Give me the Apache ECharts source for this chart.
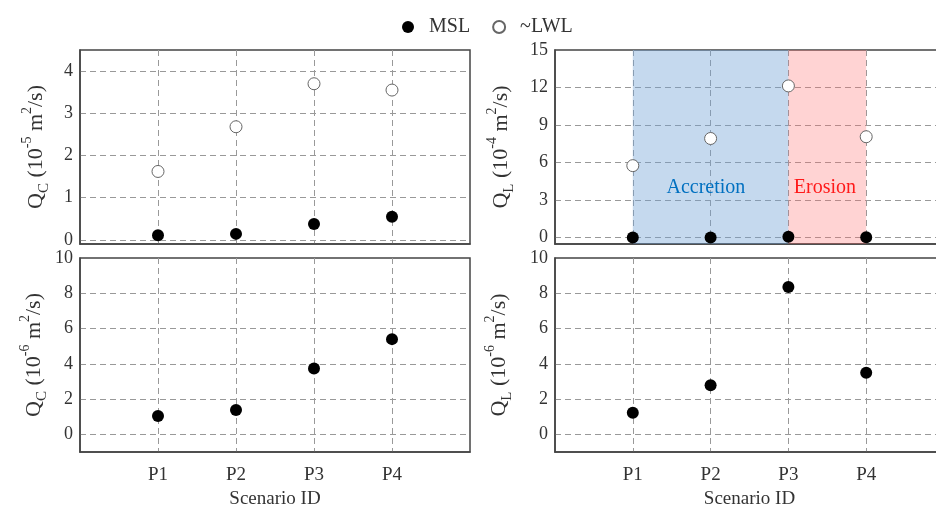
<!DOCTYPE html>
<html>
<head>
<meta charset="utf-8">
<script src="https://cdn.jsdelivr.net/npm/echarts@6/dist/echarts.min.js"></script>
<style>
  html, body { margin: 0; padding: 0; background: #fff; }
  #chart { width: 936px; height: 509px; }
</style>
</head>
<body>
<div id="chart"></div>
<script>
// Scenario labels (placed at x = 1..4 on each panel)
const scenarios = ['P1', 'P2', 'P3', 'P4'];

// Cross-shore transport Q_C, 10^-5 m^2/s
const qcMSLTop = [0.105, 0.14, 0.375, 0.545];
const qcLWLTop = [1.62, 2.68, 3.70, 3.55];

// Longshore transport Q_L, 10^-4 m^2/s
const qlMSLTop = [0.013, 0.028, 0.084, 0.036];
const qlLWLTop = [5.76, 7.93, 12.13, 8.07];

// MSL only, 10^-6 m^2/s
const qcMSL = [1.04, 1.38, 3.73, 5.40];
const qlMSL = [1.23, 2.79, 8.36, 3.50];

// Shaded ranges on the Q_L panel
const accretionRange = [1, 3];
const erosionRange = [3, 4];

const SERIF = "'Liberation Serif', 'Times New Roman', serif";
const TXT = '#333';

const pts = arr => arr.map((v, i) => [i + 1, v]);

function qName(sub, exp) {
  return '{m|Q}{sub|' + sub + '}{m| (10}{sup|' + exp + '}{m| m}{sup|2}{m|/s)}';
}
const nameRich = {
  m:   { fontSize: 22, fontFamily: SERIF, color: TXT, lineHeight: 32, verticalAlign: 'middle' },
  sup: { fontSize: 14, fontFamily: SERIF, color: TXT, lineHeight: 14, verticalAlign: 'top' },
  sub: { fontSize: 15, fontFamily: SERIF, color: TXT, lineHeight: 15, verticalAlign: 'bottom' }
};

const dashed = { show: true, showMinLine: false, showMaxLine: false,
  lineStyle: { color: '#999', type: [6, 4], width: 1 } };

function xAxis(gridIndex, withLabels) {
  return {
    type: 'value', gridIndex, min: 0, max: 5, interval: 1,
    axisLine: { show: true, onZero: false, lineStyle: { color: '#444', width: 1.5 } },
    axisTick: { show: false },
    splitLine: dashed,
    axisLabel: {
      show: withLabels, margin: 14, fontSize: 19, fontFamily: SERIF, color: TXT,
      formatter: v => (v >= 1 && v <= scenarios.length) ? scenarios[v - 1] : ''
    },
    name: withLabels ? 'Scenario ID' : '',
    nameLocation: 'middle', nameGap: 38,
    nameTextStyle: { fontSize: 19, fontFamily: SERIF, color: TXT }
  };
}

function yAxis(gridIndex, min, max, name, nameGap, showMax) {
  return {
    type: 'value', gridIndex, min, max, splitNumber: 5,
    axisLine: { show: true, onZero: false, lineStyle: { color: '#444', width: 1.5 } },
    axisTick: { show: false },
    splitLine: dashed,
    axisLabel: { showMinLabel: false, showMaxLabel: showMax, margin: 7,
      fontSize: 18, fontFamily: SERIF, color: TXT },
    name, nameLocation: 'middle', nameGap,
    nameTextStyle: { rich: nameRich }
  };
}

const gridBase = { show: true, borderColor: '#444', borderWidth: 1.5,
  backgroundColor: 'transparent', outerBoundsMode: 'none', containLabel: false };

const msl = { symbol: 'circle', symbolSize: 12, itemStyle: { color: '#000', opacity: 1 } };
const lwl = { symbol: 'circle', symbolSize: 12,
  itemStyle: { color: '#fff', borderColor: '#666', borderWidth: 1, opacity: 1 } };

const option = {
  animation: false,
  backgroundColor: '#fff',
  legend: {
    top: 12, left: 397, itemWidth: 12, itemHeight: 12, itemGap: 22,
    textStyle: { fontSize: 20, fontFamily: SERIF, color: TXT, padding: [0, 0, 0, 10] },
    data: ['MSL', '~LWL']
  },
  grid: [
    Object.assign({ left: 80, top: 50, width: 390, height: 194 }, gridBase),
    Object.assign({ left: 555, top: 50, width: 389, height: 194 }, gridBase),
    Object.assign({ left: 80, top: 258, width: 390, height: 194 }, gridBase),
    Object.assign({ left: 555, top: 258, width: 389, height: 194 }, gridBase)
  ],
  xAxis: [xAxis(0, false), xAxis(1, false), xAxis(2, true), xAxis(3, true)],
  yAxis: [
    yAxis(0, -0.1, 4.5, qName('C', '-5'), 28, false),
    yAxis(1, -0.5, 15, qName('L', '-4'), 38, true),
    yAxis(2, -1, 10, qName('C', '-6'), 30, true),
    yAxis(3, -1, 10, qName('L', '-6'), 40, true)
  ],
  series: [
    Object.assign({ name: '~LWL', type: 'scatter', xAxisIndex: 0, yAxisIndex: 0, data: pts(qcLWLTop) }, lwl),
    Object.assign({ name: 'MSL', type: 'scatter', xAxisIndex: 0, yAxisIndex: 0, data: pts(qcMSLTop) }, msl),
    Object.assign({
      name: '~LWL', type: 'scatter', xAxisIndex: 1, yAxisIndex: 1, data: pts(qlLWLTop),
      markArea: {
        silent: true,
        data: [
          [{ xAxis: accretionRange[0], name: 'Accretion',
             itemStyle: { color: 'rgba(110,160,212,0.4)' },
             label: { color: '#0070c0' } },
           { xAxis: accretionRange[1] }],
          [{ xAxis: erosionRange[0], name: 'Erosion',
             itemStyle: { color: 'rgba(255,110,110,0.3)' },
             label: { color: '#ff1a1a' } },
           { xAxis: erosionRange[1] }]
        ],
        label: {
          show: true, position: ['47%', '71%'], align: 'center', verticalAlign: 'middle',
          fontSize: 20, fontFamily: SERIF
        }
      }
    }, lwl),
    Object.assign({ name: 'MSL', type: 'scatter', xAxisIndex: 1, yAxisIndex: 1, data: pts(qlMSLTop) }, msl),
    Object.assign({ name: 'MSL', type: 'scatter', xAxisIndex: 2, yAxisIndex: 2, data: pts(qcMSL) }, msl),
    Object.assign({ name: 'MSL', type: 'scatter', xAxisIndex: 3, yAxisIndex: 3, data: pts(qlMSL) }, msl)
  ]
};

const chart = echarts.init(document.getElementById('chart'), null, { renderer: 'canvas' });
chart.setOption(option);
</script>
</body>
</html>
